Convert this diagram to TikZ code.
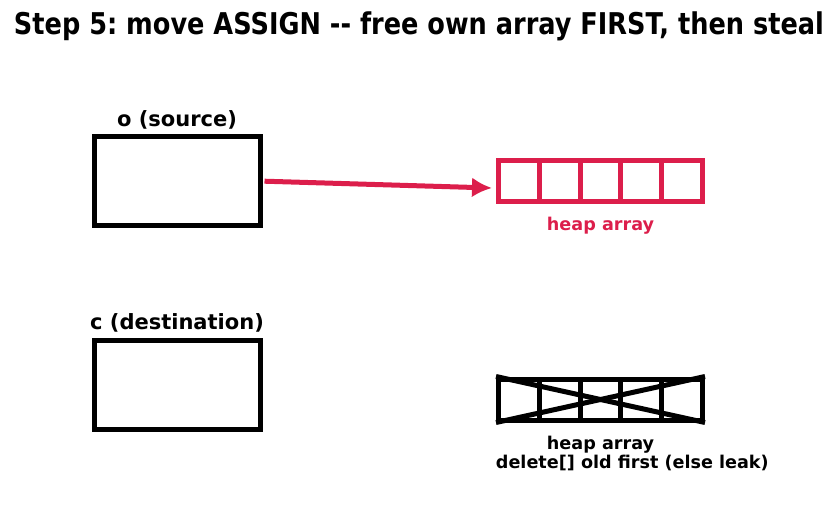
\documentclass[tikz,border=0pt]{standalone}
\usepackage{fontspec}
\setmainfont{DejaVu Sans}
\usepackage{tikz}
\usetikzlibrary{arrows.meta,positioning}
\definecolor{heapred}{HTML}{DC1E4B}
\frenchspacing

\begin{document}
\begin{tikzpicture}[x=1pt, y=-1pt, node distance=4pt, every node/.style={font=\bfseries\fontsize{17.6}{20}\selectfont}, box/.style={draw, line width=5pt, minimum width=166pt, minimum height=88.5pt}, cell/.style={draw, line width=5pt, minimum width=40.8pt, minimum height=41pt, inner sep=0pt}, arr/.style={-{Latex[length=20pt,width=20pt]}, line width=5pt, heapred}]
\useasboundingbox (0,0) rectangle (839,512);
\node (title) at (419,26) {\scalebox{1}[1.17]{\resizebox{810pt}{!}{\fontsize{26}{30}\selectfont Step 5: move ASSIGN -{}- free own array FIRST, then steal}}};
\node[box] (src) at (177,181.2) {};
\node[above=2pt of src, font=\bfseries\fontsize{21}{24}\selectfont] (srclbl) {o (source)};
\node[box] (dst) at (177,385) {};
\node[above=2pt of dst, font=\bfseries\fontsize{21}{24}\selectfont] (dstlbl) {c (destination)};
\foreach \i in {0,...,4}
  \node[cell, heapred] (h\i) at (518.9+\i*40.8,181) {};
\node[below=10pt of h2, heapred] (heaplbl) {heap array};
\foreach \i in {0,...,4}
  \node[cell] (old\i) at (518.9+\i*40.8,399.5) {};
\draw[line width=5pt] (old0.north west) -- (old4.south east);
\draw[line width=5pt] (old0.south west) -- (old4.north east);
\node[below=10pt of old2] (oldlbl) {heap array};
\node[below=-5pt of oldlbl.south west, anchor=north west, xshift=-51pt] (freelbl) {delete[] old first (else leak)};
\draw[arr] ([xshift=2pt]src.east) -- ([xshift=-4pt,yshift=-7pt]h0.west);
\end{tikzpicture}
\end{document}
